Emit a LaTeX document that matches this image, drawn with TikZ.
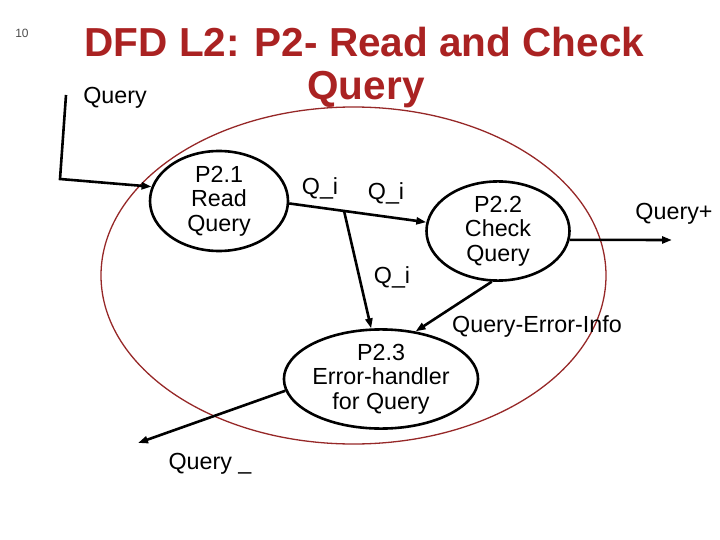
\documentclass[tikz,border=0pt]{standalone}
\usepackage{fontspec}
\setmainfont{Liberation Sans}
\usetikzlibrary{shapes.geometric,arrows.meta}
\definecolor{titlered}{RGB}{170,34,34}
\definecolor{bndred}{RGB}{150,40,40}
\begin{document}
\begin{tikzpicture}[x=1pt,y=-1pt,
  proc/.style={draw=black,line width=2.6pt,ellipse,inner sep=0pt,align=center,
     font=\fontsize{23.3}{24.5}\selectfont},
  lbl/.style={anchor=base,inner sep=0pt,font=\fontsize{23.3}{25}\selectfont},
  flow/.style={line width=2.6pt,-{Triangle[length=10pt,width=7pt]}},
  ttl/.style={anchor=base,inner sep=0pt,text=titlered,font=\fontsize{40.5}{43}\selectfont\bfseries}]
\useasboundingbox (0,0) rectangle (720,540);
% boundary of P2
\node[draw=bndred,line width=1.3pt,ellipse,minimum width=505pt,minimum height=337pt,inner sep=0pt] (p2) at (353.5,275.5) {};
% title
\node[anchor=center,inner sep=0pt,text=black!70,font=\fontsize{12}{12}\selectfont] (pg) at (22,33) {10};
\node[ttl] (t1) at (364.5,57) {DFD L2: P2- Read and Check};
\node[ttl] (t2) at (366,100) {Query};
% processes
\node[proc,minimum width=138pt,minimum height=100pt] (p21) at (219,201) {P2.1\\Read\\Query};
\node[proc,minimum width=143pt,minimum height=89pt] (p22) at (498,231) {P2.2\\Check\\Query};
\node[proc,minimum width=173pt,minimum height=88pt] (p23) at (381,379) {P2.3\\Error-handler\\for Query};
% coordinates for free ends
\coordinate (qin) at (66,95);
\coordinate (qbend) at (60,179);
\coordinate (qout) at (672,240);
\coordinate (qerr) at (138,443);
% flows
\draw[flow] (qin) -- (qbend) -- (p21.168);
\draw[flow] (p21.-2) -- coordinate[pos=0.40] (br) (p22.173);
\draw[flow] (br) -- (p23.101);
\draw[flow] (p22.263) -- (p23.54);
\draw[flow] (p22.-7) -- (qout);
\draw[flow] (p23.187) -- (qerr);
% labels
\node[lbl] (lq) at (115,104) {Query};
\node[lbl] (lqi1) at (320,195) {Q\_i};
\node[lbl] (lqi2) at (386,200) {Q\_i};
\node[lbl] (lqi3) at (392,283) {Q\_i};
\node[lbl] (lqei) at (537,332) {Query-Error-Info};
\node[lbl] (lqp) at (674,219) {Query+};
\node[lbl] (lqu) at (210,469) {Query \_};
\end{tikzpicture}
\end{document}
